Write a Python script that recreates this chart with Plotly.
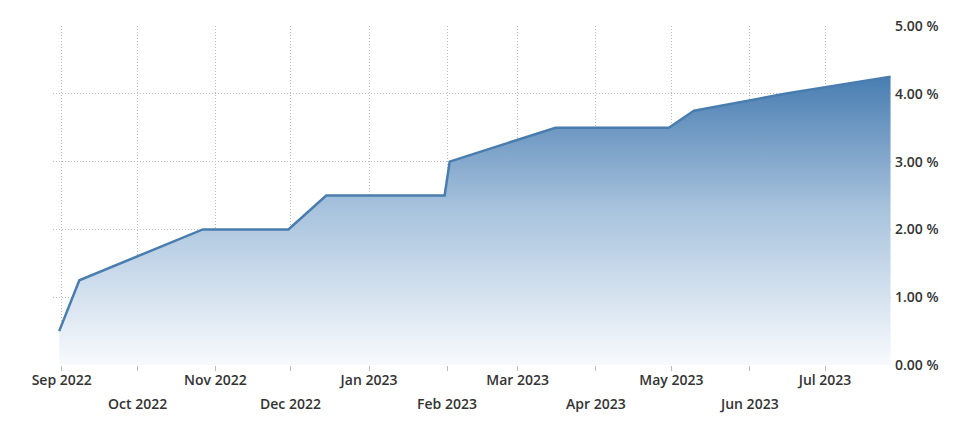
import plotly.graph_objects as go

# ECB-style policy rate path
dates = ["2022-08-31", "2022-09-08", "2022-10-27", "2022-11-30", "2022-12-15",
         "2023-01-31", "2023-02-02", "2023-03-16", "2023-04-30", "2023-05-10",
         "2023-06-15", "2023-07-27"]
rates = [0.50, 1.25, 2.00, 2.00, 2.50, 2.50, 3.00, 3.50, 3.50, 3.75, 4.00, 4.25]

month_ticks = ["2022-09-01", "2022-10-01", "2022-11-01", "2022-12-01", "2023-01-01",
               "2023-02-01", "2023-03-01", "2023-04-01", "2023-05-01", "2023-06-01",
               "2023-07-01"]
month_labels = ["Sep 2022", "Oct 2022", "Nov 2022", "Dec 2022", "Jan 2023",
                "Feb 2023", "Mar 2023", "Apr 2023", "May 2023", "Jun 2023", "Jul 2023"]
y_ticks = [0, 1, 2, 3, 4, 5]
y_labels = ["0.00 %", "1.00 %", "2.00 %", "3.00 %", "4.00 %", "5.00 %"]

FONT = "Open Sans"
FSIZE = 14
TXT = "#333333"
GRID = "#bdbdbd"
tfont = dict(family=FONT, size=FSIZE, color=TXT, weight=600)

fig = go.Figure()
fig.add_trace(go.Scatter(
    x=dates, y=rates, mode="lines",
    line=dict(color="#4a7daf", width=2.5),
    fill="tozeroy",
    fillgradient=dict(type="vertical", start=0, stop=4.25,
                      colorscale=[[0, "#f8fafd"], [0.54, "#a8c3dd"], [1, "#497db1"]]),
    hoverinfo="skip", showlegend=False,
))

upper_text = [lab if i % 2 == 0 else "" for i, lab in enumerate(month_labels)]

# page body has an 8px default margin, so the figure is offset by (8, 8)
fig.update_layout(
    width=957, height=417,
    margin=dict(l=45, r=73, t=18, b=60),
    plot_bgcolor="white", paper_bgcolor="white",
    font=tfont,
    xaxis=dict(
        type="date",
        range=["2022-08-28 13:00", "2023-07-27 14:00"],
        tickvals=month_ticks, ticktext=upper_text,
        showgrid=True, gridcolor=GRID, griddash="1px,2px", gridwidth=1,
        ticks="outside", ticklen=5, tickcolor=GRID,
        ticklabelstandoff=-3, automargin=False,
        showline=False, zeroline=False,
        tickfont=tfont,
    ),
    yaxis=dict(
        side="right", range=[0, 5],
        tickvals=y_ticks, ticktext=y_labels,
        showgrid=True, gridcolor=GRID, griddash="1px,2px", gridwidth=1,
        ticks="", showline=False, zeroline=False,
        ticklabelstandoff=2, automargin=False,
        tickfont=tfont,
    ),
)

for i, (d, lab) in enumerate(zip(month_ticks, month_labels)):
    if i % 2 == 1:
        fig.add_annotation(x=d, y=0, xref="x", yref="paper", text=lab,
                           showarrow=False, yanchor="middle", xanchor="center",
                           yshift=-38, font=tfont)

fig.write_html("out.html")
